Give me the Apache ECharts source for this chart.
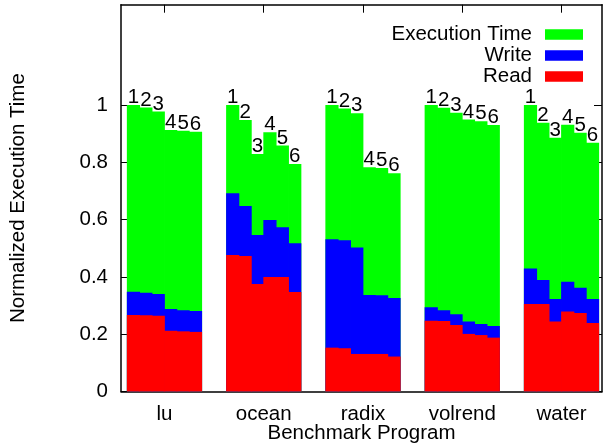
<!DOCTYPE html>
<html>
<head>
<meta charset="utf-8">
<script src="https://cdn.jsdelivr.net/npm/echarts@6/dist/echarts.min.js"></script>
<style>
  html, body { margin: 0; padding: 0; background: #fff; }
  #chart1 { width: 604px; height: 446px; }
</style>
</head>
<body>
<div id="chart1"></div>
<script>
const benchmarks = ['lu', 'ocean', 'radix', 'volrend', 'water']
const configs = ['1', '2', '3', '4', '5', '6']

// total execution time, normalized to config 1 of each benchmark
const execTime = [
  [1.000, 0.991, 0.977, 0.913, 0.910, 0.907],
  [1.000, 0.948, 0.829, 0.905, 0.859, 0.794],
  [1.000, 0.988, 0.971, 0.783, 0.780, 0.762],
  [1.000, 0.990, 0.973, 0.949, 0.943, 0.930],
  [1.000, 0.938, 0.886, 0.931, 0.903, 0.868]
]
const readTime = [
  [0.267, 0.266, 0.264, 0.212, 0.210, 0.208],
  [0.476, 0.473, 0.375, 0.400, 0.400, 0.347],
  [0.153, 0.151, 0.131, 0.131, 0.131, 0.122],
  [0.247, 0.246, 0.232, 0.201, 0.197, 0.188],
  [0.305, 0.305, 0.244, 0.279, 0.274, 0.239]
]
const writeTime = [
  [0.081, 0.079, 0.076, 0.076, 0.074, 0.073],
  [0.216, 0.174, 0.171, 0.199, 0.173, 0.170],
  [0.378, 0.377, 0.372, 0.206, 0.205, 0.204],
  [0.047, 0.038, 0.038, 0.043, 0.039, 0.041],
  [0.124, 0.084, 0.079, 0.104, 0.088, 0.084]
]
const yTicks = [0, 0.2, 0.4, 0.6, 0.8, 1]
const groupTicks = [0, 1, 2, 3, 4]

const FONT = 'Liberation Sans'
const FS = 20.5
const barStep = 0.125 // one bar, in group units

const buildBars = (getValue) => {
  const out = []
  benchmarks.forEach((b, g) => {
    configs.forEach((c, i) => {
      out.push([g + (i - (configs.length - 1) / 2) * barStep, getValue(g, i)])
    })
  })
  return out
}

const legendItems = [
  { name: 'Execution Time', color: '#00ff00' },
  { name: 'Write', color: '#0000ff' },
  { name: 'Read', color: '#ff0000' }
]

const getOption = () => {
  const xMin = -0.438
  const xMax = 4.408
  const axisLine = { show: true, onZero: false, lineStyle: { color: '#000', width: 1.5 } }
  const tick = (vals) => ({ inside: true, length: 8, customValues: vals, lineStyle: { color: '#000' } })
  return {
    animation: false,
    textStyle: { fontFamily: FONT },
    grid: { left: 121, right: 2, top: 4.7, bottom: 54.5, outerBoundsMode: 'none', containLabel: false },
    xAxis: [
      {
        type: 'value', min: xMin, max: xMax, position: 'bottom',
        axisLine: axisLine,
        splitLine: { show: false },
        axisTick: tick(groupTicks),
        axisLabel: {
          customValues: groupTicks, color: '#000', fontSize: FS, margin: 12,
          formatter: (v) => benchmarks[Math.round(v)]
        },
        name: 'Benchmark Program', nameLocation: 'middle', nameGap: 31, nameMoveOverlap: false,
        nameTextStyle: { color: '#000', fontSize: FS, fontFamily: FONT }
      },
      {
        type: 'value', min: xMin, max: xMax, position: 'top',
        axisLine: axisLine,
        splitLine: { show: false },
        axisTick: tick(groupTicks),
        axisLabel: { show: false }
      }
    ],
    yAxis: [
      {
        type: 'value', min: 0, max: 1.35, position: 'left',
        axisLine: axisLine,
        splitLine: { show: false },
        axisTick: tick(yTicks),
        axisLabel: { customValues: yTicks, color: '#000', fontSize: FS, margin: 13 },
        name: 'Normalized Execution Time', nameLocation: 'middle', nameGap: 92, nameMoveOverlap: false,
        nameTextStyle: { color: '#000', fontSize: FS, fontFamily: FONT }
      },
      {
        type: 'value', min: 0, max: 1.35, position: 'right',
        axisLine: axisLine,
        splitLine: { show: false },
        axisTick: tick(yTicks),
        axisLabel: { show: false }
      }
    ],
    graphic: legendItems.flatMap((item, k) => [
      {
        type: 'text', x: 532, y: 34.8 + 21 * k,
        style: { text: item.name, fontSize: FS, fontFamily: FONT, fill: '#000', align: 'right', verticalAlign: 'middle' }
      },
      {
        type: 'rect', shape: { x: 545, y: 29.3 + 21 * k, width: 38, height: 10.5 },
        style: { fill: item.color }
      }
    ]),
    series: [
      {
        name: 'Execution Time', type: 'bar', barWidth: 13.2, barGap: '-100%',
        itemStyle: { color: legendItems[0].color },
        label: {
          show: true, position: 'top', distance: -3, color: '#000', fontSize: FS, fontFamily: FONT,
          formatter: (p) => configs[p.dataIndex % configs.length]
        },
        data: buildBars((g, i) => execTime[g][i])
      },
      {
        name: 'Write', type: 'bar', barWidth: 13.2, barGap: '-100%',
        itemStyle: { color: legendItems[1].color },
        data: buildBars((g, i) => readTime[g][i] + writeTime[g][i])
      },
      {
        name: 'Read', type: 'bar', barWidth: 13.2, barGap: '-100%',
        itemStyle: { color: legendItems[2].color },
        data: buildBars((g, i) => readTime[g][i])
      }
    ]
  }
}

const chart1 = echarts.init(document.getElementById('chart1'))
chart1.setOption(getOption())
</script>
</body>
</html>
